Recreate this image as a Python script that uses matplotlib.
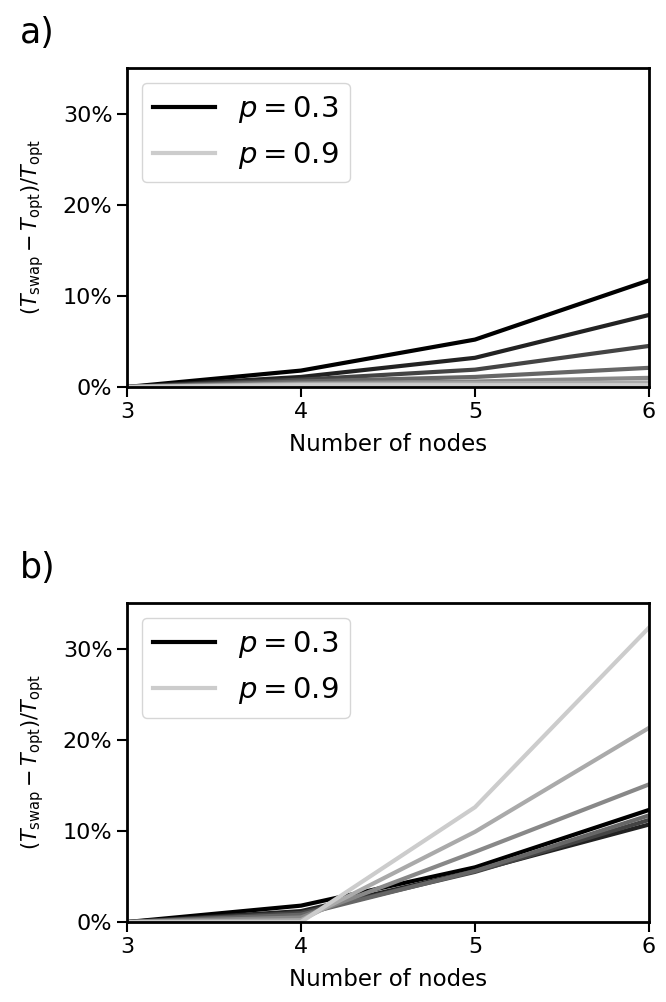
import matplotlib
matplotlib.use("Agg")
import matplotlib.pyplot as plt
import numpy as np
from matplotlib.ticker import PercentFormatter

nodes = [3, 4, 5, 6]
p_values = [0.3, 0.4, 0.5, 0.6, 0.7, 0.8, 0.9]

# panel a) overhead per p, fraction
overhead_a = [
    [0.0, 0.018, 0.052, 0.117],
    [0.0, 0.011, 0.032, 0.079],
    [0.0, 0.008, 0.019, 0.045],
    [0.0, 0.006, 0.011, 0.021],
    [0.0, 0.004, 0.006, 0.010],
    [0.0, 0.003, 0.004, 0.005],
    [0.0, 0.002, 0.002, 0.002],
]

# panel b)
overhead_b = [
    [0.0, 0.018, 0.060, 0.123],
    [0.0, 0.012, 0.056, 0.107],
    [0.0, 0.010, 0.055, 0.112],
    [0.0, 0.008, 0.056, 0.117],
    [0.0, 0.005, 0.077, 0.151],
    [0.0, 0.002, 0.099, 0.213],
    [0.0, 0.000, 0.126, 0.323],
]

grays = np.linspace(0.0, 0.8, len(p_values))

fig = plt.figure(figsize=(6.66, 10.02), dpi=100)
ax_a = fig.add_axes([0.1907, 0.6138, 0.7838, 0.3184])
ax_b = fig.add_axes([0.1907, 0.0798, 0.7838, 0.3184])

for ax, data, tag, ty in [(ax_a, overhead_a, "a)", 0.957), (ax_b, overhead_b, "b)", 0.423)]:
    for i, p in enumerate(p_values):
        lab = None
        if i == 0 or i == len(p_values) - 1:
            lab = r"$p = %.1f$" % p
        c = str(grays[i])
        ax.plot(nodes, data[i], color=c, lw=3, label=lab)
    ax.set_xlim(3, 6)
    ax.set_ylim(0, 0.35)
    ax.set_xticks(nodes)
    ax.set_yticks([0, 0.1, 0.2, 0.3])
    ax.yaxis.set_major_formatter(PercentFormatter(1.0, decimals=0))
    ax.tick_params(labelsize=16, width=1.5, length=7)
    for s in ax.spines.values():
        s.set_linewidth(2)
    ax.set_xlabel("Number of nodes", fontsize=16.5, labelpad=8)
    ax.set_ylabel(r"$(T_\mathrm{swap}-T_\mathrm{opt})/T_\mathrm{opt}$", fontsize=15, labelpad=12)
    ax.legend(loc="upper left", fontsize=21, handlelength=2.1)
    fig.text(0.03, ty, tag, fontsize=25)

fig.savefig("out.png", dpi=100)
